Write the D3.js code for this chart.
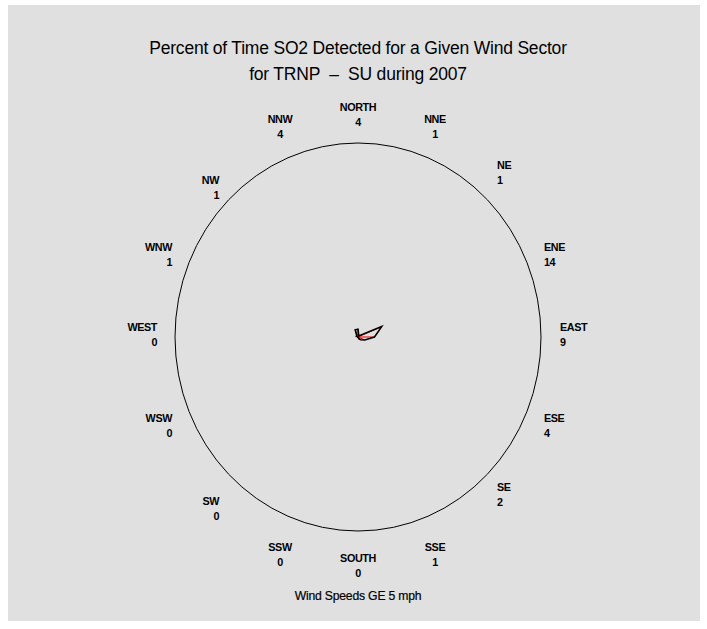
<!DOCTYPE html>
<html><head><meta charset="utf-8">
<script src="https://cdn.jsdelivr.net/npm/d3@7"></script>
<style>body{margin:0;background:#fff}svg{display:block}text{white-space:pre}</style>
</head><body>
<script>
const directions = ["NORTH","NNE","NE","ENE","EAST","ESE","SE","SSE","SOUTH","SSW","SW","WSW","WEST","WNW","NW","NNW"];
const percents = [4,1,1,14,9,4,2,1,0,0,0,0,0,1,1,4];
const titleLines = ["Percent of Time SO2 Detected for a Given Wind Sector","for TRNP  \u2013  SU during 2007"];
const footnote = "Wind Speeds GE 5 mph";

const W=707,H=629, cx=358, cy=337;
const svg=d3.select("body").append("svg").attr("width",W).attr("height",H);
svg.append("rect").attr("x",8).attr("y",5).attr("width",692).attr("height",616).attr("fill","#e0e0e0");

const rx=d3.scaleLinear().domain([0,100]).range([0,183]);
const ry=d3.scaleLinear().domain([0,100]).range([0,194]);
const ang=d3.scalePoint().domain(directions).range([0,337.5]);

svg.append("ellipse").attr("cx",cx).attr("cy",cy).attr("rx",rx(100)).attr("ry",ry(100))
  .attr("fill","none").attr("stroke","#000").attr("stroke-width",1);

svg.selectAll("text.title").data(titleLines).join("text").attr("class","title")
  .attr("x",cx).attr("y",(d,i)=>54+i*26).attr("text-anchor","middle")
  .attr("font-family","Liberation Sans, Arial, sans-serif").attr("font-size",17.5)
  .attr("letter-spacing",-0.2).attr("fill","#000").text(d=>d);

const labelPos = {
 "NORTH":[358,107,"middle"],"NNE":[435,119,"middle"],"NE":[497,165,"start"],"ENE":[544,247,"start"],
 "EAST":[560,327,"start"],"ESE":[544,418,"start"],"SE":[497,487,"start"],"SSE":[435,547,"middle"],
 "SOUTH":[358,558,"middle"],"SSW":[280,547,"middle"],"SW":[219,501,"end"],"WSW":[172,418,"end"],
 "WEST":[157,327,"end"],"WNW":[172,247,"end"],"NW":[219,180,"end"],"NNW":[280,119,"middle"]
};
const lab=svg.selectAll("g.lab").data(directions).join("g").attr("class","lab");
lab.append("text").attr("x",d=>labelPos[d][0]).attr("y",d=>labelPos[d][1]+4)
  .attr("text-anchor",d=>labelPos[d][2]).text(d=>d);
lab.append("text").attr("x",d=>labelPos[d][0]).attr("y",d=>labelPos[d][1]+18.5)
  .attr("text-anchor",d=>labelPos[d][2]).text((d,i)=>percents[i]);
lab.selectAll("text").attr("font-family","Liberation Sans, Arial, sans-serif").attr("font-size",10.8)
  .attr("font-weight","bold").attr("letter-spacing",-0.4).attr("fill","#000");

svg.append("text").attr("x",cx).attr("y",600).attr("text-anchor","middle")
  .attr("font-family","Liberation Sans, Arial, sans-serif").attr("font-size",12.2)
  .attr("letter-spacing",-0.2).attr("fill","#000").attr("stroke","#000").attr("stroke-width",0.2).text(footnote);

const pts=directions.map((d,i)=>{const a=ang(d)*Math.PI/180;return [cx+rx(percents[i])*Math.sin(a), cy-ry(percents[i])*Math.cos(a)];});
svg.selectAll("line.spoke").data(pts).join("line").attr("class","spoke")
  .attr("x1",cx).attr("y1",cy).attr("x2",d=>d[0]).attr("y2",d=>d[1])
  .attr("stroke","#e00000").attr("stroke-width",1);
svg.append("path").attr("d",d3.line().curve(d3.curveLinearClosed)(pts))
  .attr("fill","none").attr("stroke","#000").attr("stroke-width",1.6);
</script>
</body></html>
